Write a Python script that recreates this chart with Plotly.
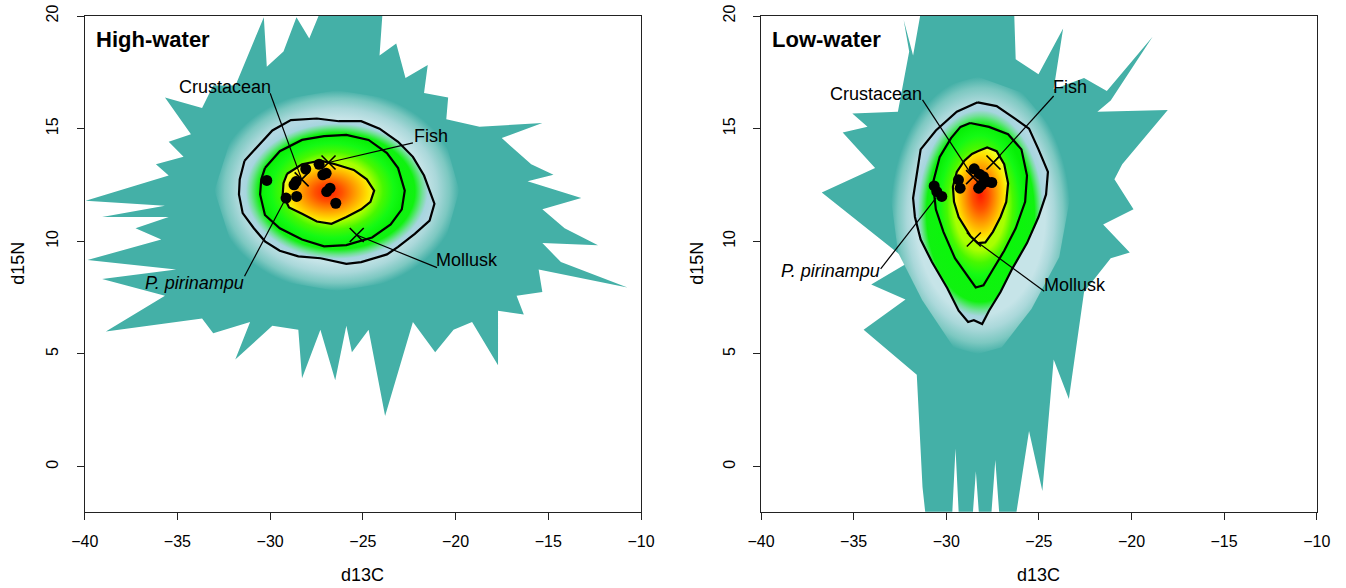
import plotly.graph_objects as go

# ---------------- data ----------------
X_TICKS = [-40, -35, -30, -25, -20, -15, -10]
Y_TICKS = [0, 5, 10, 15, 20]
X_RANGE = [-40, -10]
Y_RANGE = [-2, 20]

PANELS = ["High-water", "Low-water"]

# spiky outline of the sampled region (teal)
HW_OUT_X = [-39.95, -35.47, -36.16, -34.67, -35.47, -34.27, -35.67, -33.67, -33.07, -31.87,
            -30.34, -30.18, -29.28, -28.58, -27.89, -27.09, -23.9, -24.1, -23.2, -22.7,
            -21.5, -21.7, -20.4, -20.5, -18.71, -15.32, -17.51, -15.92, -14.72, -16.12,
            -13.22, -15.32, -14.12, -12.32, -15.32, -14.32, -10.73, -15.52, -15.32, -16.71,
            -16.32, -17.71, -17.71, -19.11, -20.11, -21.1, -22.3, -23.8, -24.69, -25.59,
            -25.89, -26.49, -27.29, -28.28, -28.48, -29.88, -31.88, -31.08, -33.07, -33.67,
            -38.86, -35.67, -39.06, -35.07, -39.85, -35.87, -37.26, -35.47, -39.06, -35.67]
HW_OUT_Y = [11.8, 12.92, 13.42, 13.75, 14.42, 14.75, 16.38, 15.92, 16.92, 16.92,
            19.95, 17.75, 18.42, 19.95, 19.0, 20.6, 20.6, 18.25, 18.78, 17.25,
            17.83, 16.58, 16.38, 15.42, 15.08, 15.25, 14.58, 13.42, 12.95, 12.67,
            11.92, 11.42, 10.58, 9.83, 9.92, 9.08, 7.95, 8.75, 7.75, 7.58,
            6.75, 6.92, 4.5, 6.42, 6.08, 5.08, 6.42, 2.25, 6.08, 5.08,
            6.25, 3.83, 6.08, 3.92, 6.08, 6.25, 4.75, 6.42, 5.92, 6.58,
            6.0, 7.58, 8.33, 8.75, 9.17, 10.08, 10.58, 11.08, 11.08, 11.58]

LW_OUT_X = [-32.3, -31.79, -31.28, -26.35, -26.25, -25.02, -23.69, -24.2, -22.56, -21.33,
            -18.86, -21.12, -21.84, -18.04, -20.5, -20.92, -19.89, -21.53, -20.09, -21.12,
            -22.56, -23.38, -24.2, -24.81, -25.53, -26.3, -27.1, -27.35, -27.6, -28.2,
            -28.4, -28.6, -29.3, -29.5, -29.7, -31.07, -31.28, -31.59, -34.46, -32.2,
            -34.05, -32.0, -36.72, -33.84, -35.59, -34.25, -35.07, -32.61, -32.0]
LW_OUT_Y = [19.83, 18.25, 20.6, 20.6, 18.08, 17.42, 19.45, 16.75, 17.25, 16.67,
            19.08, 16.25, 15.75, 15.83, 13.42, 12.75, 11.42, 10.75, 9.5, 9.25,
            7.75, 3.0, 4.75, -1.08, 1.58, -2.5, -2.5, 0.3, -2.5, -2.5,
            -0.2, -2.5, -2.5, 0.8, -2.5, -2.5, -0.92, 4.08, 6.08, 7.42,
            8.08, 9.08, 12.17, 13.25, 14.83, 15.08, 15.67, 15.75, 18.42]

# pale halo around the density core
HW_HALO_X = [-33.0, -32.1, -30.0, -26.4, -22.6, -20.6, -19.8, -20.6, -22.6, -26.4, -30.0, -32.1]
HW_HALO_Y = [12.25, 14.6, 16.2, 16.7, 16.2, 14.6, 12.25, 9.9, 8.3, 7.8, 8.3, 9.9]
LW_HALO_X = [-33.0, -32.6, -30.9, -28.3, -25.9, -23.8, -23.3, -23.9, -25.4, -27.0, -28.3, -29.6, -31.3, -32.6]
LW_HALO_Y = [12.0, 14.6, 16.7, 17.3, 16.6, 14.5, 12.0, 9.3, 7.0, 5.3, 5.0, 5.3, 7.4, 9.5]

# outer contour
HW_C1_X = [-31.38, -29.88, -28.88, -27.48, -26.29, -25.09, -24.1, -23.1, -22.3, -21.7, -21.4, -21.14,
           -21.4, -22.2, -23.1, -23.7, -25.09, -25.89, -27.28, -28.48, -29.48, -30.28, -30.88, -31.48,
           -31.68, -31.64]
HW_C1_Y = [13.58, 14.92, 15.38, 15.45, 15.33, 15.33, 15.0, 14.42, 13.75, 12.92, 12.25, 11.67,
           10.92, 10.33, 9.75, 9.42, 9.08, 9.0, 9.25, 9.33, 9.58, 10.0, 10.58, 11.25,
           12.08, 12.75]
# middle contour
HW_C2_X = [-30.28, -29.48, -28.28, -27.09, -25.89, -24.69, -23.7, -23.1, -22.74, -22.9, -23.5, -24.5,
           -25.89, -27.09, -28.28, -29.48, -30.28, -30.54, -30.48]
HW_C2_Y = [13.25, 14.0, 14.5, 14.67, 14.72, 14.5, 13.92, 13.25, 12.25, 11.42, 10.75, 10.17,
           9.83, 9.78, 10.08, 10.58, 11.17, 12.08, 12.75]
# inner contour
HW_C3_X = [-29.08, -28.28, -27.28, -26.49, -25.49, -24.79, -24.39, -24.59, -25.09, -25.89, -26.69,
           -27.48, -28.28, -28.98, -29.32, -29.28]
HW_C3_Y = [13.0, 13.42, 13.58, 13.42, 13.17, 12.75, 12.25, 11.75, 11.42, 11.08, 10.78,
           10.88, 11.22, 11.5, 12.08, 12.58]

LW_C1_X = [-28.3, -27.28, -26.25, -25.53, -25.02, -24.51, -24.61, -25.02, -25.64, -26.46, -27.07,
           -27.69, -28.06, -28.51, -28.82, -29.33, -29.94, -30.77, -31.38, -31.69, -31.79, -31.59,
           -31.38, -30.56, -29.43]
LW_C1_Y = [16.17, 16.0, 15.42, 15.0, 14.08, 13.08, 12.08, 11.08, 9.92, 8.75, 7.75,
           6.92, 6.33, 6.5, 6.42, 6.92, 7.92, 9.08, 10.08, 11.08, 11.92, 13.08,
           14.08, 14.92, 15.75]
LW_C2_X = [-28.71, -27.69, -26.66, -25.94, -25.64, -25.74, -26.25, -26.87, -27.48, -27.99, -28.41,
           -28.82, -29.53, -30.15, -30.56, -30.72, -30.35, -29.74, -29.23]
LW_C2_Y = [15.25, 15.08, 14.75, 14.08, 12.92, 11.75, 10.58, 9.58, 8.75, 8.05, 7.95,
           8.42, 9.25, 10.42, 11.42, 12.58, 13.75, 14.58, 15.08]
LW_C3_X = [-28.3, -27.79, -27.28, -26.87, -26.66, -26.76, -27.07, -27.48, -27.89, -28.3, -28.71,
           -29.02, -29.33, -29.58, -29.64, -29.43, -29.02, -28.61]
LW_C3_Y = [14.0, 14.17, 14.0, 13.42, 12.58, 11.75, 11.08, 10.42, 9.95, 9.92, 10.25,
           10.67, 11.08, 11.75, 12.42, 13.08, 13.58, 13.88]

# consumers (P. pirinampu)
HW_PTS_X = [-30.18, -29.14, -28.57, -28.71, -28.6, -28.08, -27.36, -27.16, -26.98, -26.77, -26.95, -26.46]
HW_PTS_Y = [12.7, 11.92, 11.99, 12.51, 12.65, 13.21, 13.42, 12.95, 13.02, 12.36, 12.21, 11.69]
LW_PTS_X = [-30.65, -30.51, -30.24, -29.34, -29.25, -28.49, -28.2, -27.99, -28.25, -27.81, -27.54, -28.1]
LW_PTS_Y = [12.46, 12.21, 11.99, 12.73, 12.36, 13.22, 12.98, 12.87, 12.36, 12.65, 12.61, 12.5]

# sources
SOURCES = ["Crustacean", "Fish", "Mollusk"]
HW_SRC_X = [-28.3, -26.85, -25.33]
HW_SRC_Y = [12.75, 13.5, 10.28]
LW_SRC_X = [-28.55, -27.45, -28.51]
LW_SRC_Y = [12.85, 13.5, 10.08]

# labels: text centre, leader start, leader end
LABELS = ["Crustacean", "Fish", "Mollusk", "<i>P. pirinampu</i>"]
HW_LAB_X = [-32.43, -21.34, -19.41, -34.07]
HW_LAB_Y = [16.85, 14.67, 9.17, 8.17]
HW_LS_X = [-30.0, -22.3, -21.0, -31.38]
HW_LS_Y = [16.57, 14.37, 8.83, 8.45]
HW_LE_X = [-28.3, -26.85, -25.33, -29.15]
HW_LE_Y = [12.75, 13.5, 10.28, 11.92]
LW_LAB_X = [-33.8, -23.34, -23.03, -36.27]
LW_LAB_Y = [16.55, 16.83, 8.05, 8.7]
LW_LS_X = [-31.28, -24.2, -24.71, -33.54]
LW_LS_Y = [16.28, 16.45, 7.78, 8.78]
LW_LE_X = [-28.55, -27.45, -28.51, -30.56]
LW_LE_Y = [12.85, 13.5, 10.08, 11.92]

# ---------------- styling ----------------
TEAL = "#44b0a7"
FONT = "Liberation Sans, Arial, sans-serif"

HALO_CS = [[0, "#c6e4e8"], [0.72, "#c6e4e8"], [0.82, "#aad8da"], [0.92, "#7cc8c1"], [1, TEAL]]
C1_CS = [[0, "#00ff00"], [0.8, "#10f210"], [0.88, "#74e09a"], [0.93, "#a6d5de"], [1, "#b2d8e3"]]
C2_CS = [[0, "#c8ff00"], [0.55, "#a8ff00"], [0.7, "#48f800"], [0.85, "#14fa14"], [1, "#06f006"]]
C3_CS = [[0, "#ff1a00"], [0.3, "#ff5200"], [0.6, "#ffa000"], [0.85, "#ffe000"], [1, "#f0ff20"]]


def closed(a):
    return list(a) + [a[0]]


fig = go.Figure()

panel_data = [
    dict(ox=HW_OUT_X, oy=HW_OUT_Y, hx=HW_HALO_X, hy=HW_HALO_Y,
         c=[(HW_C1_X, HW_C1_Y, C1_CS), (HW_C2_X, HW_C2_Y, C2_CS), (HW_C3_X, HW_C3_Y, C3_CS)],
         px=HW_PTS_X, py=HW_PTS_Y, sx=HW_SRC_X, sy=HW_SRC_Y,
         lx=HW_LAB_X, ly=HW_LAB_Y, lsx=HW_LS_X, lsy=HW_LS_Y, lex=HW_LE_X, ley=HW_LE_Y),
    dict(ox=LW_OUT_X, oy=LW_OUT_Y, hx=LW_HALO_X, hy=LW_HALO_Y,
         c=[(LW_C1_X, LW_C1_Y, C1_CS), (LW_C2_X, LW_C2_Y, C2_CS), (LW_C3_X, LW_C3_Y, C3_CS)],
         px=LW_PTS_X, py=LW_PTS_Y, sx=LW_SRC_X, sy=LW_SRC_Y,
         lx=LW_LAB_X, ly=LW_LAB_Y, lsx=LW_LS_X, lsy=LW_LS_Y, lex=LW_LE_X, ley=LW_LE_Y),
]

annotations = []
for i, d in enumerate(panel_data):
    xa = "x" if i == 0 else "x2"
    ya = "y" if i == 0 else "y2"
    common = dict(xaxis=xa, yaxis=ya, showlegend=False, hoverinfo="skip")
    # teal sampled region
    fig.add_trace(go.Scatter(x=closed(d["ox"]), y=closed(d["oy"]), mode="lines",
                             fill="toself", fillcolor=TEAL, line=dict(width=0), **common))
    # halo
    fig.add_trace(go.Scatter(x=closed(d["hx"]), y=closed(d["hy"]), mode="lines", fill="toself",
                             fillgradient=dict(type="radial", colorscale=HALO_CS),
                             line=dict(width=0), **common))
    # density fills
    for cx, cy, cs in d["c"]:
        fig.add_trace(go.Scatter(x=closed(cx), y=closed(cy), mode="lines", fill="toself",
                                 fillgradient=dict(type="radial", colorscale=cs),
                                 line=dict(width=0), **common))
    # contour lines
    for cx, cy, cs in d["c"]:
        fig.add_trace(go.Scatter(x=closed(cx), y=closed(cy), mode="lines",
                                 line=dict(color="black", width=2.2), **common))
    # leader lines
    for k in range(len(LABELS)):
        fig.add_trace(go.Scatter(x=[d["lsx"][k], d["lex"][k]], y=[d["lsy"][k], d["ley"][k]],
                                 mode="lines", line=dict(color="black", width=1.2), **common))
    # consumers
    fig.add_trace(go.Scatter(x=d["px"], y=d["py"], mode="markers",
                             marker=dict(color="black", size=11), **common))
    # sources
    fig.add_trace(go.Scatter(x=d["sx"], y=d["sy"], mode="markers",
                             marker=dict(symbol="x-thin-open", size=14, color="black",
                                         line=dict(color="black", width=1.6)), **common))
    for k, lab in enumerate(LABELS):
        annotations.append(dict(x=d["lx"][k], y=d["ly"][k], xref=xa, yref=ya, text=lab,
                                showarrow=False, font=dict(family=FONT, size=18, color="black"),
                                xanchor="center", yanchor="middle"))

W, H = 1346, 588
xdom1 = [84.7 / W, 641 / W]
xdom2 = [761 / W, 1316.7 / W]
ydom = [1 - 511.7 / H, 1 - 16 / H]

axis_common = dict(showgrid=False, zeroline=False, showline=True, mirror=True,
                   linecolor="#222", linewidth=1, ticks="outside", ticklen=7,
                   tickcolor="#222", tickwidth=1, automargin=False,
                   ticklabeloverflow="allow",
                   tickfont=dict(family=FONT, size=16, color="black"))

fig.update_layout(
    width=W, height=H, margin=dict(l=0, r=0, t=0, b=0, autoexpand=False),
    paper_bgcolor="white", plot_bgcolor="white",
    xaxis=dict(domain=xdom1, range=X_RANGE, tickvals=X_TICKS, anchor="y",
               ticklabelstandoff=8, **axis_common),
    yaxis=dict(domain=ydom, range=Y_RANGE, tickvals=Y_TICKS, anchor="x", tickangle=-90,
               ticklabelstandoff=12, **axis_common),
    xaxis2=dict(domain=xdom2, range=X_RANGE, tickvals=X_TICKS, anchor="y2",
                ticklabelstandoff=8, **axis_common),
    yaxis2=dict(domain=ydom, range=Y_RANGE, tickvals=Y_TICKS, anchor="x2", tickangle=-90,
                ticklabelstandoff=12, **axis_common),
)

# axis titles and panel titles
for xc, lab in [((xdom1[0] + xdom1[1]) / 2, "d13C"), ((xdom2[0] + xdom2[1]) / 2, "d13C")]:
    annotations.append(dict(x=xc, y=1 - 575 / H, xref="paper", yref="paper", text=lab,
                            showarrow=False, font=dict(family=FONT, size=18, color="black"),
                            xanchor="center", yanchor="middle"))
for xp in [18 / W, 697 / W]:
    annotations.append(dict(x=xp, y=(ydom[0] + ydom[1]) / 2, xref="paper", yref="paper",
                            text="d15N", textangle=-90, showarrow=False,
                            font=dict(family=FONT, size=18, color="black"),
                            xanchor="center", yanchor="middle"))
for xp, t in [(94 / W, PANELS[0]), (770 / W, PANELS[1])]:
    annotations.append(dict(x=xp, y=1 - 40 / H, xref="paper", yref="paper",
                            text="<b>" + t + "</b>", showarrow=False,
                            font=dict(family=FONT, size=22, color="black"),
                            xanchor="left", yanchor="middle"))

fig.update_layout(annotations=annotations)
# remove the page's default body margin so the figure fills the window exactly
fig.write_html("out.html", config={"displayModeBar": False},
               post_script="document.body.style.margin='0';")
